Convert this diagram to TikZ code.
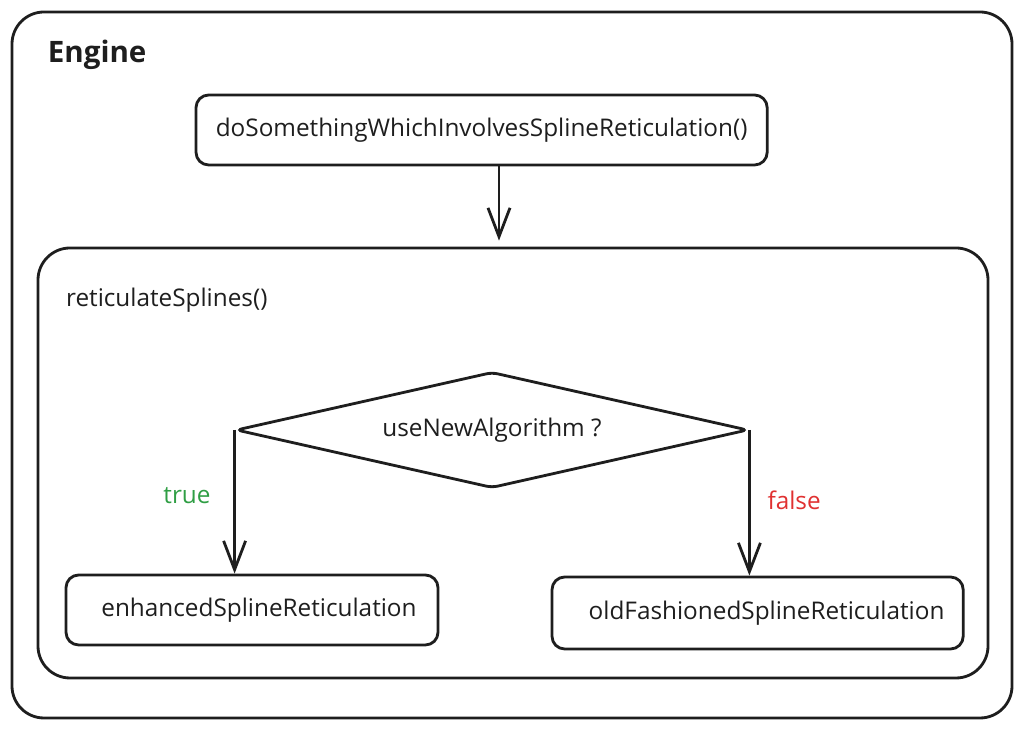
\documentclass[tikz,border=0pt]{standalone}
\usepackage{fontspec}
\setmainfont{Open Sans}
\usetikzlibrary{arrows.meta,shapes.geometric}
\definecolor{truegreen}{HTML}{2F9E44}
\definecolor{falsered}{HTML}{E03131}
\definecolor{ink}{HTML}{1E1E1E}
\begin{document}
\begin{tikzpicture}[line width=2pt,draw=ink,
  every node/.style={font=\fontsize{17.3}{20}\selectfont,text=ink},
  box/.style={draw,rounded corners=9pt,minimum width=#1,minimum height=1.75cm,align=center},
  arr/.style={-{Straight Barb[length=0.72cm,width=0.55cm]}}]
  \useasboundingbox (0,0) rectangle (25.6,18.25);
  % frames
  \draw[rounded corners=0.8cm] (0.3,0.3) rectangle (25.3,17.95);
  \node[font=\fontsize{21}{24}\selectfont\bfseries] (engine) at (2.43,16.88) {Engine};
  \node[draw,rounded corners=0.8cm,minimum width=23.75cm,minimum height=10.75cm] (inner) at (12.825,6.675) {};
  \node[anchor=west] (ret) at (1.5,10.75) {reticulateSplines()};
  % nodes
  \node[box=14.28cm] (top) at (12.04,15.0) {doSomethingWhichInvolvesSplineReticulation()};
  \node[draw,diamond,shape aspect=4.4,rounded corners=4pt,minimum width=12.8cm,minimum height=2.9cm,inner sep=0pt] (dia) at (12.3,7.5) {useNewAlgorithm ?};
  \node[box=9.3cm] (lbox) at (6.3,3.0) {\hspace{0.35cm}enhancedSplineReticulation};
  \node[box=10.28cm,minimum height=1.8cm] (rbox) at (18.94,2.925) {\hspace{0.45cm}oldFashionedSplineReticulation};
  % connectors
  \coordinate (arrx) at (12.475,0);
  \draw[arr] (top.south -| arrx) -- ([yshift=0.15cm]inner.north -| arrx);
  \draw[arr] (dia.west) -- (dia.west |- lbox.north) node[pos=0.455,left=0.45cm,text=truegreen] {true};
  \draw[arr] (dia.east) -- (dia.east |- rbox.north) node[pos=0.48,right=0.3cm,text=falsered] {false};
\end{tikzpicture}
\end{document}
